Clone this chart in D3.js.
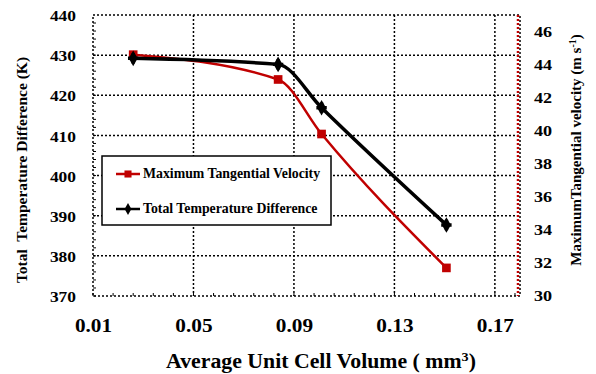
<!DOCTYPE html>
<html><head><meta charset="utf-8">
<script src="https://cdn.jsdelivr.net/npm/d3@7"></script>
<style>body{margin:0;background:#fff}svg{display:block}</style>
</head><body><svg id="c" width="596" height="374"></svg>
<script>
const volume = [0.026, 0.0837, 0.101, 0.1507];
const tempDiff = [429.2, 427.7, 416.9, 387.7];
const tangVel = [44.6, 43.1, 39.8, 31.7];
const xTicks = [0.01, 0.05, 0.09, 0.13, 0.17];
const yLeftTicks = [370, 380, 390, 400, 410, 420, 430, 440];
const yRightTicks = [30, 32, 34, 36, 38, 40, 42, 44, 46];

const FONT = '"Liberation Serif", serif';
const svg = d3.select("#c");
const L = 93, R = 520, T = 15, B = 296;
const x = d3.scaleLinear().domain([0.01, 0.18]).range([L, R]);
const yL = d3.scaleLinear().domain([370, 440]).range([B, T]);
const yR = d3.scaleLinear().domain([30, 47]).range([B, T]);

const grid = svg.append("g").attr("stroke", "#000").attr("stroke-width", 1.5).attr("stroke-dasharray", "2,2");
xTicks.slice(1).forEach(v => grid.append("line").attr("x1", x(v)).attr("x2", x(v)).attr("y1", T).attr("y2", B));
yLeftTicks.slice(1, -1).forEach(v => grid.append("line").attr("x1", L).attr("x2", R).attr("y1", yL(v)).attr("y2", yL(v)));
grid.append("rect").attr("x", L).attr("y", T).attr("width", R - L).attr("height", B - T).attr("fill", "none");

const minor = svg.append("g").attr("stroke", "#000").attr("stroke-width", 1);
d3.range(370, 440, 2).forEach(v => minor.append("line").attr("x1", L).attr("x2", L + 3).attr("y1", yL(v)).attr("y2", yL(v)));
d3.range(0.01, 0.18, 0.008).forEach(v => minor.append("line").attr("x1", x(v)).attr("x2", x(v)).attr("y1", B).attr("y2", B - 3));

svg.append("line").attr("x1", R - 2).attr("x2", R - 2).attr("y1", T).attr("y2", B)
  .attr("stroke", "#c00000").attr("stroke-width", 2.5).attr("stroke-dasharray", "2,2");

const axL = svg.append("g").attr("transform", `translate(${L - 17},1)`)
  .call(d3.axisLeft(yL).tickValues(yLeftTicks).tickSize(0).tickPadding(0));
const axR = svg.append("g").attr("transform", `translate(${R + 14},0)`)
  .call(d3.axisRight(yR).tickValues(yRightTicks).tickSize(0).tickPadding(0));
const axB = svg.append("g").attr("transform", `translate(0,${B + 23})`)
  .call(d3.axisBottom(x).tickValues(xTicks).tickFormat(d3.format(".2f")).tickSize(0).tickPadding(0));
[axL, axR, axB].forEach(a => { a.select(".domain").remove(); a.attr("font-family", null).attr("font-size", null); a.selectAll("text").attr("fill", "#000"); });
axL.selectAll("text").style("font-size", "14.5px").attr("transform", "scale(1.2,1)");
axR.selectAll("text").style("font-size", "14.5px").attr("transform", "scale(1.25,1)");
axB.selectAll("text").style("font-size", "19px").attr("transform", "scale(1.12,1)");

const curve = d3.curveMonotoneX;
const redLine = d3.line().x((d, i) => x(volume[i])).y(d => yR(d)).curve(curve);
const blackLine = d3.line().x((d, i) => x(volume[i])).y(d => yL(d)).curve(curve);
svg.append("path").attr("d", redLine(tangVel)).attr("fill", "none").attr("stroke", "#c00000").attr("stroke-width", 2.5);
svg.append("path").attr("d", blackLine(tempDiff)).attr("fill", "none").attr("stroke", "#000").attr("stroke-width", 3.5);

const sq = d3.symbol().type(d3.symbolSquare).size(75);
const dia = d3.symbol().type(d3.symbolDiamond).size(70);
const cross = d3.symbol().type(d3.symbolCross).size(60);
tangVel.forEach((v, i) => svg.append("path").attr("d", sq()).attr("transform", `translate(${x(volume[i])},${yR(v)})`).attr("fill", "#c00000"));
tempDiff.forEach((v, i) => {
  svg.append("path").attr("d", dia()).attr("transform", `translate(${x(volume[i])},${yL(v)})`).attr("fill", "#000");
  svg.append("path").attr("d", cross()).attr("transform", `translate(${x(volume[i])},${yL(v)})`).attr("fill", "#000");
});

const lg = svg.append("g");
lg.append("rect").attr("x", 102).attr("y", 156).attr("width", 229).attr("height", 69).attr("fill", "#fff").attr("stroke", "#000").attr("stroke-width", 1.5);
lg.append("line").attr("x1", 116).attr("x2", 140).attr("y1", 174).attr("y2", 174).attr("stroke", "#c00000").attr("stroke-width", 2.5);
lg.append("path").attr("d", d3.symbol().type(d3.symbolSquare).size(50)()).attr("transform", "translate(128,174)").attr("fill", "#c00000");
lg.append("line").attr("x1", 116).attr("x2", 140).attr("y1", 209).attr("y2", 209).attr("stroke", "#000").attr("stroke-width", 2.5);
lg.append("path").attr("d", d3.symbol().type(d3.symbolDiamond).size(40)()).attr("transform", "translate(128,209)").attr("fill", "#000");
lg.append("text").attr("x", 143).attr("y", 178).style("font-size", "13.8px").text("Maximum Tangential Velocity");
lg.append("text").attr("x", 143).attr("y", 213).style("font-size", "13.8px").text("Total Temperature Difference");

svg.append("text").attr("transform", "translate(27,170) rotate(-90)").attr("text-anchor", "middle").style("font-size", "15.5px")
  .style("white-space", "pre").text("Total  Temperature Difference (K)");
const rt = svg.append("text").attr("transform", "translate(581,150) rotate(-90)").attr("text-anchor", "middle").style("font-size", "15px");
rt.append("tspan").text("MaximumTangential velocity (m s");
rt.append("tspan").attr("dy", -5).style("font-size", "10px").text("-1");
rt.append("tspan").attr("dy", 5).text(")");
const xt = svg.append("text").attr("transform", "translate(321,368) scale(1.09,1)").attr("text-anchor", "middle").style("font-size", "20px");
xt.append("tspan").text("Average Unit Cell Volume ( mm");
xt.append("tspan").attr("dy", -7).style("font-size", "13px").text("3");
xt.append("tspan").attr("dy", 7).text(")");

svg.selectAll("text").style("font-family", FONT).style("font-weight", "bold");
</script></body></html>
